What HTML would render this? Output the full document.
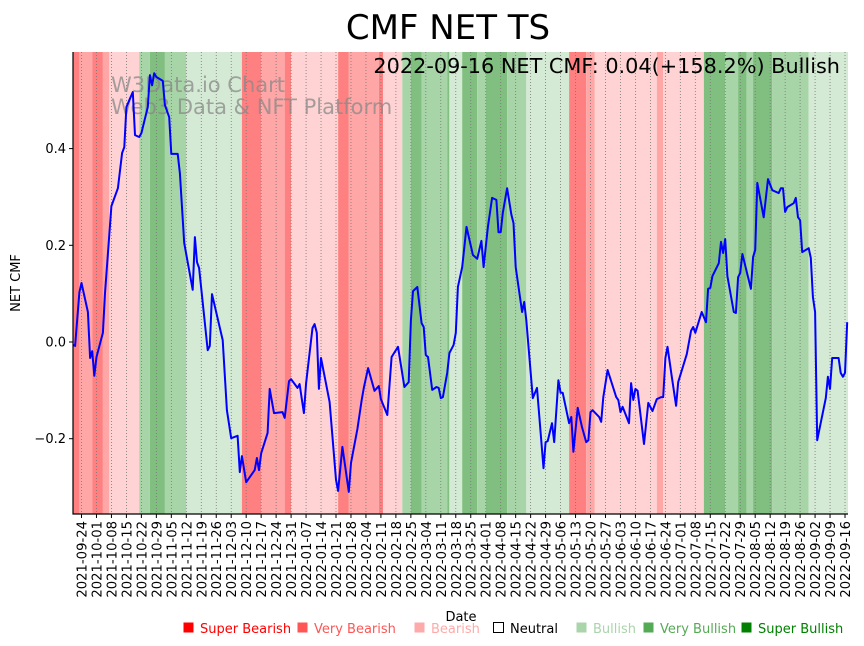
<!DOCTYPE html>
<html><head><meta charset="utf-8"><style>
body{margin:0;background:#fff;}
svg{display:block;font-family:"DejaVu Sans","Liberation Sans",sans-serif;}
</style></head><body>
<svg id="chart" width="864" height="646" viewBox="0 0 864 646" xmlns="http://www.w3.org/2000/svg">
<text x="448" y="39" font-size="34" text-anchor="middle">CMF NET TS</text>
<g id="bands"></g>
<g id="grid"></g>
<text x="111" y="92" font-size="21" fill="#888" fill-opacity="0.75">W3Data.io Chart</text>
<text x="111" y="114" font-size="21" fill="#888" fill-opacity="0.75">Web3 Data &amp; NFT Platform</text>
<g id="line"></g>
<text x="840" y="73" font-size="20.8" text-anchor="end">2022-09-16 NET CMF: 0.04(+158.2%) Bullish</text>
<g id="axes"></g>
<text transform="translate(20,283) rotate(-90)" font-size="13" text-anchor="middle">NET CMF</text>
<text x="461" y="621" font-size="13" text-anchor="middle">Date</text>
<g id="legend"></g>
</svg>
<script>
const dayIdx=[-4,-3,-1,0,3,4,5,6,7,10,11,14,17,19,20,21,24,25,27,28,31,32,33,34,35,38,39,41,42,45,46,48,52,53,54,55,59,60,61,66,68,70,73,74,75,77,81,82,83,84,87,88,90,94,95,97,98,101,102,104,105,108,109,110,111,112,116,119,120,122,125,126,129,131,132,134,137,139,140,143,145,148,151,153,154,155,157,159,160,161,162,164,166,167,168,169,171,172,174,175,176,178,180,183,185,187,188,190,192,194,195,196,197,199,201,202,203,206,207,208,211,213,216,217,218,220,221,223,224,225,228,229,230,232,234,236,237,238,239,242,243,244,246,250,251,252,253,256,257,258,259,260,263,265,267,269,271,272,273,274,276,278,279,283,285,286,287,290,292,293,294,295,298,299,300,301,302,305,306,307,308,309,313,314,315,316,319,321,323,326,327,328,329,330,333,334,335,336,337,340,341,342,343,344,348,349,350,351,354,355,356,357,358];
const cmfValues=[-0.006,-0.008,0.103,0.122,0.062,-0.033,-0.019,-0.070,-0.031,0.019,0.101,0.281,0.318,0.391,0.403,0.486,0.517,0.428,0.424,0.432,0.486,0.552,0.531,0.556,0.548,0.540,0.490,0.465,0.389,0.389,0.349,0.205,0.108,0.217,0.165,0.153,-0.017,-0.008,0.099,0.004,-0.141,-0.199,-0.194,-0.269,-0.236,-0.290,-0.265,-0.240,-0.265,-0.230,-0.188,-0.097,-0.147,-0.145,-0.157,-0.081,-0.077,-0.095,-0.087,-0.147,-0.085,0.029,0.037,0.019,-0.097,-0.033,-0.124,-0.285,-0.308,-0.217,-0.310,-0.250,-0.180,-0.120,-0.095,-0.054,-0.101,-0.091,-0.118,-0.151,-0.031,-0.010,-0.093,-0.083,0.045,0.105,0.114,0.039,0.031,-0.027,-0.031,-0.099,-0.093,-0.095,-0.116,-0.114,-0.064,-0.023,-0.006,0.019,0.114,0.155,0.238,0.180,0.172,0.209,0.155,0.238,0.298,0.294,0.227,0.227,0.267,0.318,0.263,0.246,0.155,0.062,0.083,0.045,-0.116,-0.095,-0.261,-0.207,-0.205,-0.168,-0.207,-0.079,-0.105,-0.105,-0.168,-0.155,-0.227,-0.136,-0.176,-0.207,-0.203,-0.145,-0.141,-0.155,-0.165,-0.114,-0.058,-0.114,-0.120,-0.145,-0.134,-0.168,-0.085,-0.120,-0.097,-0.101,-0.211,-0.126,-0.143,-0.118,-0.114,-0.114,-0.033,-0.010,-0.072,-0.132,-0.083,-0.025,0.023,0.031,0.019,0.062,0.041,0.110,0.112,0.136,0.163,0.207,0.184,0.213,0.136,0.062,0.060,0.134,0.143,0.182,0.110,0.176,0.190,0.329,0.258,0.337,0.314,0.308,0.318,0.318,0.269,0.279,0.287,0.298,0.258,0.252,0.186,0.194,0.174,0.093,0.062,-0.203,-0.116,-0.072,-0.097,-0.033,-0.033,-0.064,-0.072,-0.064,0.041];
const bandStart=[-4,-1,5,10,13,27,32,39,49,75,84,95,98,120,125,139,141,150,154,159,171,172,178,185,189,199,208,228,236,240,269,272,291,301,307,311,314,323,340];
const bandEnd=[-1,5,10,13,27,32,39,49,75,84,95,98,120,125,139,141,150,154,159,171,172,178,185,189,199,208,228,236,240,269,272,291,301,307,311,314,323,340,360];
const bandCat=[2,1,2,1,0,4,5,4,3,2,1,2,0,2,1,2,0,4,5,4,5,3,5,4,5,4,3,2,1,0,1,0,5,4,5,4,5,4,3];
const yTicks=[0.4,0.2,0.0,-0.2];
const yTickLabels=["0.4","0.2","0.0","\u22120.2"];
const startDate="2021-09-24";
const weekCount=51;
const legendLabels=["Super Bearish","Very Bearish","Bearish","Neutral","Bullish","Very Bullish","Super Bullish"];

const NS="http://www.w3.org/2000/svg";
const L=73,R=848,T=52,B=514;
const x=d=>81.5+d*2.1387;
const y=v=>342-v*483.5;
const bandColors=["#ffd3d3","#ffa6a6","#ff8080","#d4ead4","#a8d5a8","#80bf80"];
function mk(tag,attrs,parent){const e=document.createElementNS(NS,tag);for(const k in attrs)e.setAttribute(k,attrs[k]);parent.appendChild(e);return e;}
const gB=document.getElementById('bands');
for(let i=0;i<bandStart.length;i++){
  const x0=Math.max(L,x(bandStart[i])),x1=Math.min(R,x(bandEnd[i]));
  const r=mk('rect',{x:x0,y:T,width:x1-x0,height:B-T,fill:bandColors[bandCat[i]]},gB);
  
  
}
const gG=document.getElementById('grid');
const gA=document.getElementById('axes');
const sd=new Date(startDate+"T00:00:00Z");
for(let w=0;w<=weekCount;w++){
  const d=w*7,xx=x(d);
  const gl=mk('line',{x1:xx,x2:xx,y1:T,y2:B,stroke:'#777','stroke-width':0.8,'stroke-dasharray':'1,2'},gG);
  
  
  mk('line',{x1:xx,x2:xx,y1:B,y2:B+4,stroke:'#000','stroke-width':1},gA);
  const dt=new Date(sd.getTime()+d*86400000);
  const lab=dt.toISOString().slice(0,10);
  const t=mk('text',{transform:`translate(${xx+5},${B+7}) rotate(-90)`,'font-size':13.2,'text-anchor':'end'},gA);
  t.textContent=lab;
  
  
}
yTicks.forEach((v,i)=>{
  mk('line',{x1:L-4,x2:L,y1:y(v),y2:y(v),stroke:'#000','stroke-width':1},gA);
  const t=mk('text',{x:L-7,y:y(v)+4.5,'font-size':13,'text-anchor':'end'},gA);
  t.textContent=yTickLabels[i];
  
  
});
const sp1=mk('line',{x1:L,x2:L,y1:T,y2:B+0.5,stroke:'#000','stroke-width':1.2},gA);


const sp2=mk('line',{x1:L-0.5,x2:R,y1:B,y2:B,stroke:'#000','stroke-width':1.2},gA);


const pts=dayIdx.map((d,i)=>`${Math.max(L,Math.min(R,x(d))).toFixed(1)},${y(cmfValues[i]).toFixed(1)}`).join(' ');
const pl=mk('polyline',{points:pts,fill:'none',stroke:'#0000ff','stroke-width':2,'stroke-linejoin':'round'},document.getElementById('line'));


const legColors=["#ff0000","#ff5555","#ffaaaa","none","#aad4aa","#55aa55","#008000"];
const legX=[183,297,414,493,576,643,741];
const gL=document.getElementById('legend');
legendLabels.forEach((lab,i)=>{
  const g=mk('g',{},gL);
  
  
  mk('rect',{x:legX[i]+0.5,y:622.5,width:10,height:10,fill:legColors[i]==='none'?'#fff':legColors[i],stroke:legColors[i]==='none'?'#000':'none'},g);
  const t=mk('text',{x:legX[i]+17,y:633,'font-size':13,fill:legColors[i]==='none'?'#000':legColors[i]},g);
  t.textContent=lab;
});
</script>
</body></html>
